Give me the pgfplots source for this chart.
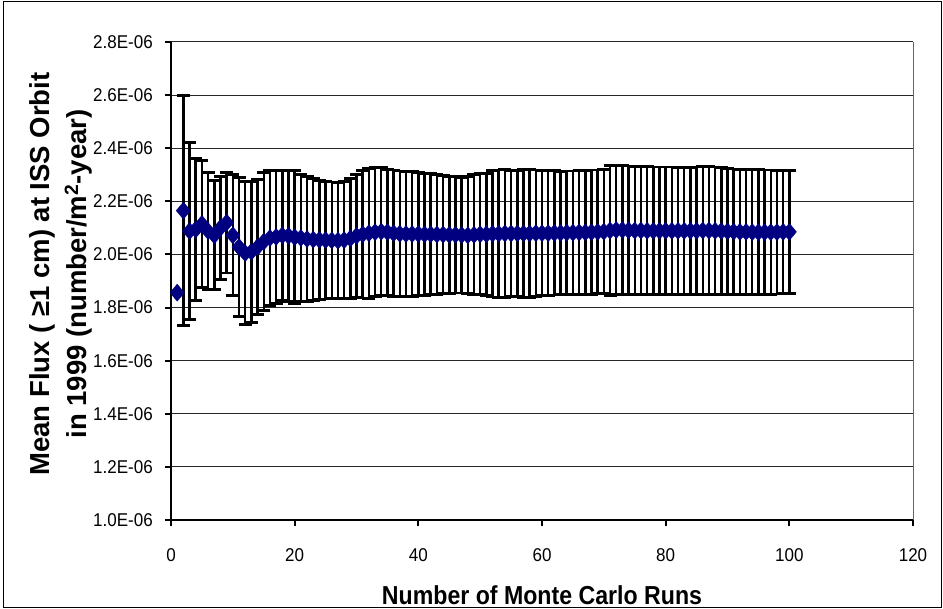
\documentclass[border=0pt]{standalone}
\usepackage{fontspec}
\setmainfont{Liberation Sans}
\newfontfamily\tickf{Liberation Sans}[FakeStretch=0.92]
\newfontfamily\labf{Liberation Sans}[FakeStretch=0.89]
\usepackage{pgfplots}
\usepackage{pgfplotstable}
\pgfplotsset{compat=1.18}
\definecolor{navy}{RGB}{0,0,128}
\pgfplotstableread{
n m e
1 1.856 0
2 2.165 0.433
3 2.088 0.333
4 2.094 0.268
5 2.115 0.240
6 2.088 0.220
7 2.072 0.205
8 2.100 0.195
9 2.120 0.190
10 2.072 0.228
11 2.028 0.262
12 2.005 0.270
13 2.010 0.265
14 2.028 0.253
15 2.048 0.260
16 2.062 0.255
17 2.066 0.250
18 2.072 0.245
19 2.070 0.246
20 2.065 0.250
21 2.062 0.238
22 2.058 0.234
23 2.056 0.229
24 2.055 0.224
25 2.054 0.222
26 2.053 0.220
27 2.052 0.220
28 2.054 0.221
29 2.060 0.225
30 2.070 0.232
31 2.076 0.240
32 2.080 0.245
33 2.084 0.242
34 2.086 0.240
35 2.084 0.237
36 2.080 0.238
37 2.078 0.236
38 2.077 0.236
39 2.077 0.234
40 2.077 0.232
41 2.076 0.230
42 2.076 0.228
43 2.075 0.225
44 2.075 0.222
45 2.074 0.221
46 2.074 0.219
47 2.073 0.218
48 2.072 0.220
49 2.074 0.226
50 2.076 0.228
51 2.076 0.230
52 2.078 0.238
53 2.078 0.240
54 2.079 0.240
55 2.079 0.238
56 2.079 0.238
57 2.079 0.240
58 2.079 0.240
59 2.080 0.238
60 2.080 0.236
61 2.080 0.234
62 2.081 0.234
63 2.081 0.232
64 2.082 0.232
65 2.082 0.232
66 2.083 0.233
67 2.083 0.234
68 2.084 0.234
69 2.085 0.233
70 2.086 0.234
71 2.090 0.244
72 2.092 0.244
73 2.092 0.243
74 2.091 0.242
75 2.090 0.242
76 2.090 0.241
77 2.089 0.241
78 2.089 0.240
79 2.089 0.240
80 2.089 0.240
81 2.089 0.240
82 2.089 0.239
83 2.089 0.239
84 2.089 0.239
85 2.089 0.240
86 2.090 0.242
87 2.090 0.242
88 2.089 0.240
89 2.088 0.238
90 2.087 0.237
91 2.086 0.236
92 2.085 0.236
93 2.085 0.236
94 2.084 0.235
95 2.084 0.235
96 2.084 0.234
97 2.084 0.234
98 2.084 0.233
99 2.085 0.232
100 2.085 0.232
}\fluxdata
\begin{document}
\begin{tikzpicture}
\useasboundingbox (-171bp,-89bp) rectangle (772bp,520bp);
\draw[line width=1bp, black] (-167bp,-87bp) rectangle (770bp,518bp);
\begin{axis}[
  scale only axis,
  width=742bp, height=478bp,
  xmin=0, xmax=120, ymin=1.0, ymax=2.8,
  xtick={0,20,...,120},
  ytick={1.0,1.2,1.4,1.6,1.8,2.0,2.2,2.4,2.6,2.8},
  yticklabels={1.0E-06,1.2E-06,1.4E-06,1.6E-06,1.8E-06,2.0E-06,2.2E-06,2.4E-06,2.6E-06,2.8E-06},
  /pgf/number format/assume math mode=true,
  axis x line*=bottom, axis y line*=left,
  axis line style={line width=2bp, black, -},
  tick align=outside,
  major tick length=6bp,
  tick style={line width=2bp, black},
  ymajorgrids,
  grid style={line width=1bp, black!85},
  yticklabel style={font=\tickf\fontsize{18.5bp}{20bp}\selectfont, anchor=east, inner sep=0pt, xshift=-12bp},
  xticklabel style={font=\tickf\fontsize{18.5bp}{20bp}\selectfont, anchor=north, inner sep=0pt, yshift=-22bp},
  clip=false,
]
\addplot[draw=none, mark=none, forget plot, restrict x to domain=2:100,
  error bars/.cd, y dir=both, y explicit,
  error bar style={draw=black, line width=2.5bp},
  error mark options={rotate=90, draw=black, mark size=6.5bp, line width=2.8bp}]
  table[x=n, y=m, y error=e] {\fluxdata};
\addplot[only marks, mark=diamond*, mark size=8.5bp, color=navy,
  mark options={fill=navy, draw=navy, xscale=1.12}]
  table[x=n, y=m] {\fluxdata};
\draw[line width=1bp, black!60] (rel axis cs:1,0) -- (rel axis cs:1,1);
\end{axis}
\node[rotate=90, anchor=base, font=\bfseries\fontsize{27.5bp}{30bp}\selectfont] at (-121bp,246bp) {Mean Flux ( ≥1 cm) at ISS Orbit};
\node[rotate=90, anchor=base, font=\bfseries\fontsize{27.5bp}{30bp}\selectfont] at (-84bp,246bp) {in 1999 (number/m\textsuperscript{2}-year)};
\node[anchor=base, font=\labf\bfseries\fontsize{26bp}{30bp}\selectfont] at (371bp,-84bp) {Number of Monte Carlo Runs};
\end{tikzpicture}
\end{document}
